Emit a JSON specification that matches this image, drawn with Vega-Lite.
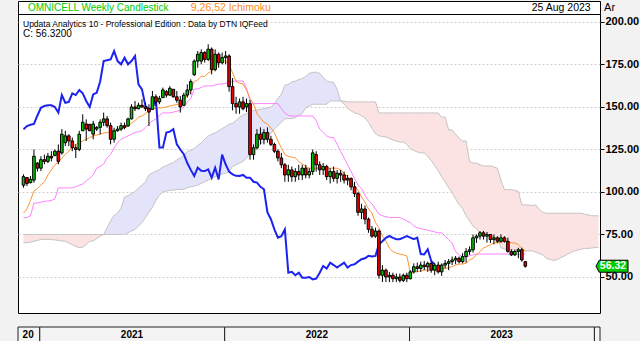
{
"$schema": "https://vega.github.io/schema/vega-lite/v6.json",
"background": "#f2f2f2",
"padding": {"left": 17, "top": 0, "right": 0, "bottom": 1},
"config": {"font": "Liberation Sans", "axisX": {"disable": true}, "view": {"stroke": null}},
"datasets": {
"w": [
{"d":"2020-11-20","o":104,"h":110.4,"l":102.5,"c":109,"t":87.6,"k":84.7,"ch":136.9},
{"d":"2020-11-27","o":108.5,"h":108.8,"l":103.5,"c":105,"t":90,"k":85,"ch":138.8},
{"d":"2020-12-04","o":105.5,"h":109.4,"l":105,"c":107.5,"t":95,"k":86,"ch":139.5},
{"d":"2020-12-11","o":107,"h":125,"l":105.5,"c":121,"t":100.6,"k":93.5,"ch":140},
{"d":"2020-12-18","o":117,"h":117.5,"l":112,"c":114,"t":102,"k":93.5,"ch":145},
{"d":"2020-12-25","o":114,"h":121,"l":112.3,"c":119,"t":104,"k":94,"ch":149.5},
{"d":"2021-01-01","o":119,"h":122,"l":116.3,"c":118,"t":106,"k":94.5,"ch":150.6},
{"d":"2021-01-08","o":118,"h":123,"l":117,"c":121,"t":110,"k":94.7,"ch":151},
{"d":"2021-01-15","o":121,"h":124,"l":118,"c":120,"t":113,"k":95,"ch":151},
{"d":"2021-01-22","o":121.5,"h":125,"l":121,"c":124,"t":116,"k":96,"ch":150},
{"d":"2021-01-29","o":124,"h":128,"l":116.3,"c":118,"t":117.5,"k":102.4,"ch":146.7},
{"d":"2021-02-05","o":123,"h":137,"l":122,"c":134,"t":120,"k":102.4,"ch":157},
{"d":"2021-02-12","o":129,"h":136,"l":127,"c":133,"t":122,"k":102.4,"ch":152.5},
{"d":"2021-02-19","o":133,"h":134,"l":127,"c":130,"t":124,"k":102.4,"ch":153},
{"d":"2021-02-26","o":130,"h":132,"l":124,"c":126,"t":127,"k":102.4,"ch":158},
{"d":"2021-03-05","o":126,"h":128,"l":120,"c":125,"t":128,"k":103,"ch":157},
{"d":"2021-03-12","o":125,"h":136,"l":124,"c":134,"t":129,"k":104,"ch":160},
{"d":"2021-03-19","o":136,"h":145.7,"l":135.9,"c":141,"t":130,"k":104.7,"ch":158},
{"d":"2021-03-26","o":140,"h":142.7,"l":130,"c":137,"t":131,"k":106.5,"ch":153.5},
{"d":"2021-04-02","o":139.8,"h":140,"l":135.9,"c":136,"t":132,"k":108,"ch":150},
{"d":"2021-04-09","o":134,"h":141.8,"l":131,"c":140,"t":133,"k":110,"ch":157.4},
{"d":"2021-04-16","o":137,"h":138.8,"l":135.9,"c":138,"t":133.5,"k":114,"ch":158.4},
{"d":"2021-04-23","o":138,"h":142.7,"l":133.9,"c":141,"t":134,"k":115,"ch":165},
{"d":"2021-04-30","o":141,"h":146.7,"l":138.8,"c":143,"t":134.7,"k":116.5,"ch":177},
{"d":"2021-05-07","o":143,"h":144.7,"l":137.8,"c":139,"t":135,"k":120,"ch":177.5},
{"d":"2021-05-14","o":139,"h":140.8,"l":128,"c":131,"t":135.5,"k":122,"ch":178},
{"d":"2021-05-21","o":131,"h":137.8,"l":129,"c":136,"t":136,"k":126,"ch":182.9},
{"d":"2021-05-28","o":136,"h":138.8,"l":135.5,"c":137,"t":136.5,"k":129,"ch":177},
{"d":"2021-06-04","o":137,"h":140.8,"l":135.9,"c":139,"t":137,"k":131,"ch":175.1},
{"d":"2021-06-11","o":139,"h":140.8,"l":136.9,"c":138,"t":137.6,"k":132,"ch":179},
{"d":"2021-06-18","o":138.8,"h":143.7,"l":138.5,"c":143,"t":139,"k":133,"ch":175.1},
{"d":"2021-06-25","o":143,"h":151.6,"l":142.7,"c":150,"t":140.6,"k":134,"ch":177},
{"d":"2021-07-02","o":150,"h":153.5,"l":147.6,"c":149,"t":142,"k":135,"ch":180},
{"d":"2021-07-09","o":149,"h":152.5,"l":148.6,"c":151,"t":144,"k":135.5,"ch":163.3},
{"d":"2021-07-16","o":151,"h":154.5,"l":149.6,"c":150,"t":144.7,"k":136,"ch":160.4},
{"d":"2021-07-23","o":150,"h":152.5,"l":147.6,"c":149,"t":146,"k":138,"ch":150.6},
{"d":"2021-07-30","o":149,"h":151.6,"l":138.8,"c":147,"t":148,"k":140,"ch":148.6},
{"d":"2021-08-06","o":148.6,"h":159.4,"l":148.5,"c":156,"t":149,"k":141.8,"ch":149.6},
{"d":"2021-08-13","o":156,"h":157.4,"l":150.6,"c":153,"t":149.2,"k":143,"ch":154.5},
{"d":"2021-08-20","o":153,"h":156.5,"l":151.6,"c":155,"t":149.4,"k":145,"ch":126.1},
{"d":"2021-08-27","o":155.5,"h":161.4,"l":155.5,"c":160,"t":149.6,"k":146.5,"ch":126.1},
{"d":"2021-09-03","o":159,"h":160,"l":155.5,"c":157,"t":150,"k":146.5,"ch":134.9},
{"d":"2021-09-10","o":157,"h":162.3,"l":156.5,"c":161,"t":150.6,"k":146.5,"ch":135.5},
{"d":"2021-09-17","o":160.4,"h":160.4,"l":155.5,"c":156,"t":151,"k":147,"ch":136.9},
{"d":"2021-09-24","o":156,"h":159.4,"l":152.5,"c":154,"t":151.5,"k":147.5,"ch":128},
{"d":"2021-10-01","o":154,"h":156.5,"l":146.7,"c":150,"t":152,"k":148,"ch":125},
{"d":"2021-10-08","o":151,"h":158.4,"l":150.6,"c":157,"t":154,"k":150,"ch":122.2},
{"d":"2021-10-15","o":157,"h":163.3,"l":155.5,"c":160,"t":157,"k":153,"ch":117},
{"d":"2021-10-22","o":160,"h":166.3,"l":157.4,"c":165,"t":160,"k":155,"ch":113},
{"d":"2021-10-29","o":169,"h":178,"l":168.2,"c":177,"t":165,"k":160.6,"ch":109.4},
{"d":"2021-11-05","o":177,"h":182.9,"l":173.1,"c":181,"t":166,"k":160.6,"ch":114.3},
{"d":"2021-11-12","o":177,"h":183.9,"l":175.1,"c":182,"t":168,"k":161.5,"ch":112.5},
{"d":"2021-11-19","o":182,"h":182.9,"l":176.1,"c":178,"t":168,"k":162.4,"ch":112.3},
{"d":"2021-11-26","o":178,"h":186.9,"l":177,"c":184,"t":170,"k":162.4,"ch":113.3},
{"d":"2021-12-03","o":184,"h":185,"l":169.2,"c":172,"t":171,"k":162.4,"ch":108.4},
{"d":"2021-12-10","o":172,"h":183.9,"l":171,"c":181,"t":173,"k":163,"ch":114.3},
{"d":"2021-12-17","o":181,"h":182,"l":173.1,"c":176,"t":176,"k":163.5,"ch":107.4},
{"d":"2021-12-24","o":176,"h":182,"l":175.1,"c":179,"t":177,"k":163.5,"ch":122},
{"d":"2021-12-31","o":179,"h":182.9,"l":175.1,"c":180,"t":177,"k":164,"ch":116.3},
{"d":"2022-01-07","o":180,"h":181,"l":159,"c":162,"t":175,"k":164.5,"ch":112},
{"d":"2022-01-14","o":162,"h":167,"l":148,"c":152,"t":170,"k":165,"ch":110.4},
{"d":"2022-01-21","o":152,"h":156,"l":146,"c":150,"t":165,"k":165.3,"ch":109.5},
{"d":"2022-01-28","o":150,"h":155,"l":146,"c":153,"t":164,"k":165.3,"ch":109.4},
{"d":"2022-02-04","o":153,"h":156,"l":148,"c":149,"t":163.5,"k":165.3,"ch":110},
{"d":"2022-02-11","o":150,"h":155,"l":147,"c":152,"t":160,"k":161,"ch":108.4},
{"d":"2022-02-18","o":152,"h":154,"l":119,"c":122,"t":155,"k":153.5,"ch":108.4},
{"d":"2022-02-25","o":122,"h":128,"l":119,"c":126,"t":151.8,"k":152,"ch":106},
{"d":"2022-03-04","o":126,"h":137,"l":125,"c":134,"t":146,"k":152,"ch":105.5},
{"d":"2022-03-11","o":134,"h":138,"l":128,"c":131,"t":143.5,"k":152,"ch":103},
{"d":"2022-03-18","o":131,"h":137,"l":128,"c":135,"t":141,"k":152,"ch":101.6},
{"d":"2022-03-25","o":135,"h":138,"l":129,"c":131,"t":140,"k":152,"ch":88},
{"d":"2022-04-01","o":131,"h":133,"l":127,"c":128,"t":137.6,"k":152,"ch":84},
{"d":"2022-04-08","o":128,"h":129,"l":123,"c":124,"t":135,"k":152,"ch":78},
{"d":"2022-04-15","o":124,"h":125,"l":118,"c":120,"t":130,"k":152,"ch":73.1},
{"d":"2022-04-22","o":120,"h":123,"l":114,"c":116,"t":126,"k":149,"ch":74},
{"d":"2022-04-29","o":116,"h":117,"l":106,"c":110,"t":122,"k":146.5,"ch":78},
{"d":"2022-05-06","o":110,"h":116,"l":106,"c":113,"t":121,"k":145,"ch":52.5},
{"d":"2022-05-13","o":113,"h":115,"l":106,"c":109,"t":120.5,"k":144.7,"ch":53},
{"d":"2022-05-20","o":109,"h":114,"l":106,"c":112,"t":120,"k":144.7,"ch":51},
{"d":"2022-05-27","o":112,"h":116,"l":107,"c":110,"t":118,"k":144.7,"ch":52.5},
{"d":"2022-06-03","o":110,"h":116,"l":107,"c":114,"t":116.5,"k":144.7,"ch":49.6},
{"d":"2022-06-10","o":114,"h":116,"l":108,"c":110,"t":115,"k":144.7,"ch":49.6},
{"d":"2022-06-17","o":110,"h":114,"l":108,"c":112,"t":114,"k":144.7,"ch":50},
{"d":"2022-06-24","o":112,"h":125,"l":110,"c":123,"t":114,"k":144.7,"ch":48.6},
{"d":"2022-07-01","o":122,"h":124,"l":112,"c":116,"t":114,"k":142,"ch":49},
{"d":"2022-07-08","o":116,"h":118,"l":110,"c":113,"t":114,"k":137,"ch":52.5},
{"d":"2022-07-15","o":113,"h":117,"l":110,"c":115,"t":114,"k":135,"ch":56.5},
{"d":"2022-07-22","o":115,"h":116,"l":107,"c":109,"t":114,"k":133,"ch":55},
{"d":"2022-07-29","o":109,"h":114,"l":105,"c":112,"t":114,"k":132,"ch":58.4},
{"d":"2022-08-05","o":112,"h":115,"l":106,"c":108,"t":114,"k":132,"ch":57},
{"d":"2022-08-12","o":108,"h":113,"l":105,"c":111,"t":114,"k":128,"ch":55.5},
{"d":"2022-08-19","o":111,"h":113,"l":106,"c":110,"t":113,"k":124,"ch":57},
{"d":"2022-08-26","o":110,"h":112,"l":105,"c":107,"t":111,"k":120,"ch":58.4},
{"d":"2022-09-02","o":107,"h":110,"l":104,"c":108,"t":109,"k":116,"ch":55.5},
{"d":"2022-09-09","o":108,"h":108.5,"l":101,"c":103,"t":106,"k":112,"ch":57},
{"d":"2022-09-16","o":103,"h":106,"l":97,"c":99,"t":104,"k":108,"ch":57.5},
{"d":"2022-09-23","o":99,"h":100,"l":86,"c":88,"t":101,"k":104,"ch":59},
{"d":"2022-09-30","o":88,"h":93,"l":84,"c":90,"t":97,"k":102,"ch":60.4},
{"d":"2022-10-07","o":90,"h":92,"l":81,"c":84,"t":94,"k":98,"ch":61},
{"d":"2022-10-14","o":84,"h":85,"l":76,"c":78,"t":90,"k":95,"ch":62.4},
{"d":"2022-10-21","o":78,"h":80,"l":73,"c":74,"t":87.6,"k":93,"ch":62},
{"d":"2022-10-28","o":74,"h":79,"l":73,"c":77,"t":82,"k":90,"ch":62.4},
{"d":"2022-11-04","o":77,"h":78,"l":49,"c":51,"t":79,"k":87,"ch":69.2},
{"d":"2022-11-11","o":51,"h":57,"l":47,"c":54,"t":74,"k":86,"ch":71},
{"d":"2022-11-18","o":54,"h":55,"l":47,"c":50,"t":71,"k":85.5,"ch":73},
{"d":"2022-11-25","o":50,"h":53,"l":47,"c":51,"t":67,"k":85,"ch":74.1},
{"d":"2022-12-02","o":51,"h":52.5,"l":47,"c":49,"t":65,"k":85,"ch":73},
{"d":"2022-12-09","o":49,"h":52,"l":47,"c":50,"t":64,"k":85,"ch":72.2},
{"d":"2022-12-16","o":50,"h":52,"l":46.7,"c":48,"t":63.5,"k":84.9,"ch":72.2},
{"d":"2022-12-23","o":48,"h":52,"l":47,"c":51,"t":63,"k":84,"ch":73.1},
{"d":"2022-12-30","o":51,"h":52.5,"l":47,"c":49,"t":62.4,"k":83,"ch":74.1},
{"d":"2023-01-06","o":49,"h":54,"l":48.5,"c":53,"t":52.5,"k":82,"ch":73.1},
{"d":"2023-01-13","o":53,"h":58,"l":52,"c":56,"t":53,"k":80,"ch":72.2},
{"d":"2023-01-20","o":56,"h":58.5,"l":53,"c":55,"t":53,"k":79,"ch":73.1},
{"d":"2023-01-27","o":55,"h":59,"l":53,"c":57,"t":53.5,"k":78.5,"ch":63.5},
{"d":"2023-02-03","o":57,"h":59.4,"l":54,"c":56,"t":54,"k":78,"ch":63.3},
{"d":"2023-02-10","o":56,"h":59,"l":53,"c":58,"t":54,"k":77.5,"ch":66.3},
{"d":"2023-02-17","o":58,"h":59,"l":52.5,"c":54,"t":54,"k":77,"ch":59.4},
{"d":"2023-02-24","o":54,"h":58,"l":51,"c":57,"t":54.5,"k":76.5,"ch":57.5},
{"d":"2023-03-03","o":57,"h":59,"l":52,"c":53,"t":54.5,"k":76},
{"d":"2023-03-10","o":53,"h":58,"l":50.6,"c":57,"t":54.7,"k":76},
{"d":"2023-03-17","o":57,"h":60,"l":55,"c":58,"t":55,"k":74},
{"d":"2023-03-24","o":58,"h":60.5,"l":54,"c":59,"t":55.5,"k":72},
{"d":"2023-03-31","o":59,"h":62,"l":57,"c":60,"t":56,"k":70},
{"d":"2023-04-07","o":60,"h":62.3,"l":57.5,"c":61,"t":57,"k":65},
{"d":"2023-04-14","o":61,"h":62,"l":58,"c":59,"t":57.6,"k":63},
{"d":"2023-04-21","o":59,"h":64,"l":58,"c":62,"t":57.6,"k":62},
{"d":"2023-04-28","o":62,"h":67,"l":58.4,"c":65,"t":58,"k":62},
{"d":"2023-05-05","o":65,"h":68,"l":63,"c":66,"t":60,"k":62.5},
{"d":"2023-05-12","o":66,"h":75,"l":64.3,"c":73,"t":61,"k":63},
{"d":"2023-05-19","o":73,"h":75,"l":70,"c":74,"t":63,"k":63.5},
{"d":"2023-05-26","o":74,"h":77,"l":72,"c":76,"t":65,"k":63.5},
{"d":"2023-06-02","o":76,"h":77.1,"l":72,"c":74,"t":67,"k":63.5},
{"d":"2023-06-09","o":74,"h":76.5,"l":70.2,"c":75,"t":68,"k":63.5},
{"d":"2023-06-16","o":75,"h":75.1,"l":70,"c":72,"t":69,"k":63.5},
{"d":"2023-06-23","o":72,"h":75,"l":69.2,"c":73,"t":70,"k":63.5},
{"d":"2023-06-30","o":73,"h":74,"l":70,"c":71,"t":70,"k":63.5},
{"d":"2023-07-07","o":71,"h":75.1,"l":70.2,"c":73,"t":70.5,"k":63.5},
{"d":"2023-07-14","o":73,"h":74,"l":70.2,"c":71,"t":71,"k":63.5},
{"d":"2023-07-21","o":71,"h":73.1,"l":64.3,"c":65,"t":71,"k":63.5},
{"d":"2023-07-28","o":65,"h":66.3,"l":62.3,"c":63,"t":70,"k":63.5},
{"d":"2023-08-04","o":63,"h":66,"l":62.3,"c":65,"t":70,"k":63.5},
{"d":"2023-08-11","o":65,"h":67.2,"l":61,"c":66,"t":69,"k":63.5},
{"d":"2023-08-18","o":66,"h":67.2,"l":59,"c":60,"t":67,"k":63.5},
{"d":"2023-08-25","o":59,"h":59.4,"l":55.5,"c":56.32,"t":65,"k":63.5}
],
"cloud": [
{"d":"2020-11-20","a":70,"b":75,"s":"p1"},
{"d":"2020-11-27","a":70.2,"b":75,"s":"p1"},
{"d":"2020-12-04","a":70.5,"b":75,"s":"p1"},
{"d":"2020-12-11","a":71,"b":75,"s":"p1"},
{"d":"2020-12-18","a":71.5,"b":75,"s":"p1"},
{"d":"2020-12-25","a":72,"b":75,"s":"p1"},
{"d":"2021-01-01","a":72,"b":75,"s":"p1"},
{"d":"2021-01-08","a":72.2,"b":75,"s":"p1"},
{"d":"2021-01-15","a":72,"b":75,"s":"p1"},
{"d":"2021-01-22","a":71.8,"b":75,"s":"p1"},
{"d":"2021-01-29","a":71.5,"b":75,"s":"p1"},
{"d":"2021-02-05","a":71.2,"b":75,"s":"p1"},
{"d":"2021-02-12","a":71,"b":75,"s":"p1"},
{"d":"2021-02-19","a":70,"b":75,"s":"p1"},
{"d":"2021-02-26","a":69,"b":75,"s":"p1"},
{"d":"2021-03-05","a":68,"b":75,"s":"p1"},
{"d":"2021-03-12","a":67.3,"b":75,"s":"p1"},
{"d":"2021-03-19","a":67.5,"b":75,"s":"p1"},
{"d":"2021-03-26","a":69,"b":75,"s":"p1"},
{"d":"2021-04-02","a":71,"b":75,"s":"p1"},
{"d":"2021-04-09","a":71.2,"b":75,"s":"p1"},
{"d":"2021-04-16","a":72.5,"b":75,"s":"p1"},
{"d":"2021-04-23","a":74,"b":75,"s":"p1"},
{"d":"2021-04-30","a":75,"b":75,"s":"p1"},
{"d":"2021-04-30","a":75,"b":75,"s":"bl"},
{"d":"2021-05-07","a":79,"b":75,"s":"bl"},
{"d":"2021-05-14","a":83,"b":75,"s":"bl"},
{"d":"2021-05-21","a":86.2,"b":75,"s":"bl"},
{"d":"2021-05-28","a":87.5,"b":75,"s":"bl"},
{"d":"2021-06-04","a":90.5,"b":75,"s":"bl"},
{"d":"2021-06-11","a":97,"b":75,"s":"bl"},
{"d":"2021-06-18","a":97.8,"b":76,"s":"bl"},
{"d":"2021-06-25","a":99,"b":77,"s":"bl"},
{"d":"2021-07-02","a":100.3,"b":78,"s":"bl"},
{"d":"2021-07-09","a":102.4,"b":80,"s":"bl"},
{"d":"2021-07-16","a":104,"b":82,"s":"bl"},
{"d":"2021-07-23","a":106,"b":85,"s":"bl"},
{"d":"2021-07-30","a":110,"b":88,"s":"bl"},
{"d":"2021-08-06","a":111.2,"b":91,"s":"bl"},
{"d":"2021-08-13","a":112.2,"b":95,"s":"bl"},
{"d":"2021-08-20","a":113.2,"b":98,"s":"bl"},
{"d":"2021-08-27","a":114.7,"b":100,"s":"bl"},
{"d":"2021-09-03","a":115.5,"b":100.5,"s":"bl"},
{"d":"2021-09-10","a":116.5,"b":101,"s":"bl"},
{"d":"2021-09-17","a":117.4,"b":101,"s":"bl"},
{"d":"2021-09-24","a":118.8,"b":101.5,"s":"bl"},
{"d":"2021-10-01","a":120,"b":101.5,"s":"bl"},
{"d":"2021-10-08","a":121.5,"b":101.6,"s":"bl"},
{"d":"2021-10-15","a":123.8,"b":102.5,"s":"bl"},
{"d":"2021-10-22","a":124.5,"b":103,"s":"bl"},
{"d":"2021-10-29","a":125.6,"b":103.5,"s":"bl"},
{"d":"2021-11-05","a":127.5,"b":104,"s":"bl"},
{"d":"2021-11-12","a":128.8,"b":105,"s":"bl"},
{"d":"2021-11-19","a":131,"b":106,"s":"bl"},
{"d":"2021-11-26","a":132.8,"b":107,"s":"bl"},
{"d":"2021-12-03","a":134,"b":108,"s":"bl"},
{"d":"2021-12-10","a":134.8,"b":109,"s":"bl"},
{"d":"2021-12-17","a":136,"b":110,"s":"bl"},
{"d":"2021-12-24","a":137.3,"b":110.5,"s":"bl"},
{"d":"2021-12-31","a":138.5,"b":111,"s":"bl"},
{"d":"2022-01-07","a":139.8,"b":112,"s":"bl"},
{"d":"2022-01-14","a":140.4,"b":115,"s":"bl"},
{"d":"2022-01-21","a":142,"b":116,"s":"bl"},
{"d":"2022-01-28","a":144,"b":117,"s":"bl"},
{"d":"2022-02-04","a":145.4,"b":118,"s":"bl"},
{"d":"2022-02-11","a":146.1,"b":120,"s":"bl"},
{"d":"2022-02-18","a":147.2,"b":122,"s":"bl"},
{"d":"2022-02-25","a":148,"b":124,"s":"bl"},
{"d":"2022-03-04","a":148.3,"b":126,"s":"bl"},
{"d":"2022-03-11","a":148.6,"b":128,"s":"bl"},
{"d":"2022-03-18","a":149,"b":130,"s":"bl"},
{"d":"2022-03-25","a":149.5,"b":132,"s":"bl"},
{"d":"2022-04-01","a":150,"b":134.5,"s":"bl"},
{"d":"2022-04-08","a":152,"b":137,"s":"bl"},
{"d":"2022-04-15","a":155,"b":139,"s":"bl"},
{"d":"2022-04-22","a":157.5,"b":141,"s":"bl"},
{"d":"2022-04-29","a":162.8,"b":143,"s":"bl"},
{"d":"2022-05-06","a":163.3,"b":143.2,"s":"bl"},
{"d":"2022-05-13","a":164.8,"b":143.2,"s":"bl"},
{"d":"2022-05-20","a":165.2,"b":143.7,"s":"bl"},
{"d":"2022-05-27","a":166.2,"b":145,"s":"bl"},
{"d":"2022-06-03","a":166.7,"b":146.2,"s":"bl"},
{"d":"2022-06-10","a":168,"b":149.5,"s":"bl"},
{"d":"2022-06-17","a":169.8,"b":150.5,"s":"bl"},
{"d":"2022-06-24","a":170.3,"b":151.6,"s":"bl"},
{"d":"2022-07-01","a":170.5,"b":151.6,"s":"bl"},
{"d":"2022-07-08","a":169.8,"b":151.6,"s":"bl"},
{"d":"2022-07-15","a":167.5,"b":151.6,"s":"bl"},
{"d":"2022-07-22","a":165.2,"b":151.6,"s":"bl"},
{"d":"2022-07-29","a":164.7,"b":153.5,"s":"bl"},
{"d":"2022-08-05","a":164.4,"b":153.5,"s":"bl"},
{"d":"2022-08-12","a":160.5,"b":153.5,"s":"bl"},
{"d":"2022-08-19","a":153.5,"b":153.5,"s":"bl"},
{"d":"2022-08-19","a":153.5,"b":153.5,"s":"p2"},
{"d":"2022-08-26","a":151.9,"b":153.5,"s":"p2"},
{"d":"2022-09-02","a":149,"b":153,"s":"p2"},
{"d":"2022-09-09","a":147.8,"b":153,"s":"p2"},
{"d":"2022-09-16","a":146.5,"b":153,"s":"p2"},
{"d":"2022-09-23","a":146,"b":153,"s":"p2"},
{"d":"2022-09-30","a":144.8,"b":153,"s":"p2"},
{"d":"2022-10-07","a":143.5,"b":153,"s":"p2"},
{"d":"2022-10-14","a":141,"b":153,"s":"p2"},
{"d":"2022-10-21","a":137.5,"b":153,"s":"p2"},
{"d":"2022-10-28","a":134.3,"b":153,"s":"p2"},
{"d":"2022-11-04","a":133,"b":146.5,"s":"p2"},
{"d":"2022-11-11","a":132.6,"b":146.5,"s":"p2"},
{"d":"2022-11-18","a":132.4,"b":146.5,"s":"p2"},
{"d":"2022-11-25","a":131.4,"b":146.5,"s":"p2"},
{"d":"2022-12-02","a":130.6,"b":146.5,"s":"p2"},
{"d":"2022-12-09","a":129.9,"b":146.5,"s":"p2"},
{"d":"2022-12-16","a":129.4,"b":146.5,"s":"p2"},
{"d":"2022-12-23","a":129.4,"b":146.5,"s":"p2"},
{"d":"2022-12-30","a":128,"b":146.5,"s":"p2"},
{"d":"2023-01-06","a":125.5,"b":146.5,"s":"p2"},
{"d":"2023-01-13","a":124.5,"b":146.5,"s":"p2"},
{"d":"2023-01-20","a":123.5,"b":146.5,"s":"p2"},
{"d":"2023-01-27","a":123,"b":146.5,"s":"p2"},
{"d":"2023-02-03","a":123,"b":146.5,"s":"p2"},
{"d":"2023-02-10","a":121,"b":146.5,"s":"p2"},
{"d":"2023-02-17","a":118.5,"b":146.5,"s":"p2"},
{"d":"2023-02-24","a":115.5,"b":146.5,"s":"p2"},
{"d":"2023-03-03","a":112.5,"b":146.5,"s":"p2"},
{"d":"2023-03-10","a":109,"b":144,"s":"p2"},
{"d":"2023-03-17","a":106,"b":144,"s":"p2"},
{"d":"2023-03-24","a":102.5,"b":136.5,"s":"p2"},
{"d":"2023-03-31","a":99.5,"b":136.5,"s":"p2"},
{"d":"2023-04-07","a":96,"b":134,"s":"p2"},
{"d":"2023-04-14","a":92.5,"b":131.5,"s":"p2"},
{"d":"2023-04-21","a":90.3,"b":130,"s":"p2"},
{"d":"2023-04-28","a":86,"b":130,"s":"p2"},
{"d":"2023-05-05","a":83,"b":118,"s":"p2"},
{"d":"2023-05-12","a":80,"b":117,"s":"p2"},
{"d":"2023-05-19","a":78.3,"b":117,"s":"p2"},
{"d":"2023-05-26","a":76,"b":116,"s":"p2"},
{"d":"2023-06-02","a":75,"b":115.3,"s":"p2"},
{"d":"2023-06-09","a":74.5,"b":115.3,"s":"p2"},
{"d":"2023-06-16","a":74.2,"b":115.3,"s":"p2"},
{"d":"2023-06-23","a":73.5,"b":114.8,"s":"p2"},
{"d":"2023-06-30","a":72.7,"b":113.9,"s":"p2"},
{"d":"2023-07-07","a":67.3,"b":106.9,"s":"p2"},
{"d":"2023-07-14","a":66.5,"b":101.4,"s":"p2"},
{"d":"2023-07-21","a":66,"b":101.4,"s":"p2"},
{"d":"2023-07-28","a":66,"b":101.4,"s":"p2"},
{"d":"2023-08-04","a":66,"b":100.9,"s":"p2"},
{"d":"2023-08-11","a":65.8,"b":100.4,"s":"p2"},
{"d":"2023-08-18","a":65.5,"b":92.4,"s":"p2"},
{"d":"2023-08-25","a":65.5,"b":92.4,"s":"p2"},
{"d":"2023-09-01","a":65.3,"b":92.4,"s":"p2"},
{"d":"2023-09-08","a":65.4,"b":91.9,"s":"p2"},
{"d":"2023-09-15","a":64.5,"b":92.4,"s":"p2"},
{"d":"2023-09-22","a":63.8,"b":89.9,"s":"p2"},
{"d":"2023-09-29","a":63,"b":88,"s":"p2"},
{"d":"2023-10-06","a":61,"b":87.5,"s":"p2"},
{"d":"2023-10-13","a":60.3,"b":87.5,"s":"p2"},
{"d":"2023-10-20","a":59.8,"b":87.5,"s":"p2"},
{"d":"2023-10-27","a":60,"b":87.5,"s":"p2"},
{"d":"2023-11-03","a":61.3,"b":87.5,"s":"p2"},
{"d":"2023-11-10","a":62,"b":87.5,"s":"p2"},
{"d":"2023-11-17","a":63.3,"b":87.5,"s":"p2"},
{"d":"2023-11-24","a":64.3,"b":87.5,"s":"p2"},
{"d":"2023-12-01","a":65.3,"b":87.5,"s":"p2"},
{"d":"2023-12-08","a":65.8,"b":87.5,"s":"p2"},
{"d":"2023-12-15","a":66.3,"b":87.5,"s":"p2"},
{"d":"2023-12-22","a":66.8,"b":87,"s":"p2"},
{"d":"2023-12-29","a":66.8,"b":86.5,"s":"p2"},
{"d":"2024-01-05","a":67,"b":86,"s":"p2"},
{"d":"2024-01-12","a":67.3,"b":86,"s":"p2"},
{"d":"2024-01-19","a":67.3,"b":86,"s":"p2"}
],
"years": [
{"s":"2020-11-19","e":"2021-01-01","m":"2020-12-09","lab":"20"},
{"s":"2021-01-01","e":"2022-01-01","m":"2021-07-02","lab":"2021"},
{"s":"2022-01-01","e":"2023-01-01","m":"2022-07-02","lab":"2022"},
{"s":"2023-01-01","e":"2024-01-01","m":"2023-07-02","lab":"2023"},
{"s":"2024-01-01","e":"2024-01-12","m":"2024-01-06","lab":""}
],
"last": [{"c":56.32}]
},
"vconcat": [
{
"spacing": 0,
"bounds": "flush",
"vconcat": [
{
"width": 582, "height": 13,
"view": {"fill": "white", "stroke": "black", "strokeWidth": 1},
"data": {"values": [{}]},
"layer": [
{"mark": {"type": "text", "text": "OMNICELL Weekly Candlestick", "color": "#00c800", "fontSize": 10, "align": "left", "baseline": "middle"},
 "encoding": {"x": {"datum": 1.7, "type": "quantitative", "scale": {"domain": [0, 100]}}}},
{"mark": {"type": "text", "text": "9,26,52 Ichimoku", "color": "#ff8a1c", "fontSize": 10.5, "align": "left", "baseline": "middle"},
 "encoding": {"x": {"datum": 29.7, "type": "quantitative"}}},
{"mark": {"type": "text", "text": "25 Aug 2023", "color": "black", "fontSize": 10.5, "align": "right", "baseline": "middle"},
 "encoding": {"x": {"datum": 98.4, "type": "quantitative"}}},
{"mark": {"type": "text", "text": "Ar", "color": "black", "fontSize": 11, "align": "left", "baseline": "middle"},
 "encoding": {"x": {"datum": 100.7, "type": "quantitative"}}}
]
},
{
"width": 582, "height": 299,
"view": {"fill": "white", "stroke": "black", "strokeWidth": 1},
"title": {"text": "Updata Analytics 10 - Professional Edition : Data by DTN IQFeed", "subtitle": "C: 56.3200", "anchor": "start", "frame": "group", "orient": "top", "offset": -25, "dx": 5, "font": "Liberation Sans", "fontSize": 8.5, "fontWeight": "normal", "color": "black", "subtitleFont": "Liberation Sans", "subtitleFontSize": 10, "subtitleColor": "black", "subtitlePadding": 1},
"layer": [
{"data": {"name": "cloud"},
 "mark": {"type": "area", "clip": true, "opacity": 1},
 "encoding": {
  "x": {"field": "d", "type": "temporal", "scale": {"domain": [{"year": 2020, "month": 11, "date": 19}, {"year": 2024, "month": 1, "date": 12}], "nice": false}},
  "y": {"field": "a", "type": "quantitative", "title": null, "scale": {"domain": [28.8, 204.7], "nice": false, "zero": false},
        "axis": {"orient": "right", "values": [50, 75, 100, 125, 150, 175, 200], "format": ".2f", "title": null, "grid": true, "gridColor": "#cfcfcf", "gridDash": [2, 2], "domain": false, "ticks": true, "tickSize": 4, "tickColor": "black", "labelFont": "Liberation Sans", "labelFontSize": 11, "labelFontWeight": "bold", "labelColor": "black", "labelPadding": 1}},
  "y2": {"field": "b"},
  "color": {"field": "s", "type": "nominal", "scale": {"domain": ["p1", "bl", "p2"], "range": ["#fbe3e3", "#e3e4fa", "#fbe3e3"]}, "legend": null}
 }},
{"data": {"name": "cloud"},
 "mark": {"type": "line", "clip": true, "color": "#c4c4c4", "strokeWidth": 1},
 "encoding": {"x": {"field": "d", "type": "temporal"}, "y": {"field": "a", "type": "quantitative", "title": null}}},
{"data": {"name": "cloud"},
 "mark": {"type": "line", "clip": true, "color": "#c4c4c4", "strokeWidth": 1},
 "encoding": {"x": {"field": "d", "type": "temporal"}, "y": {"field": "b", "type": "quantitative", "title": null}}},
{"data": {"name": "w"},
 "mark": {"type": "line", "color": "#ff80ff", "strokeWidth": 1},
 "encoding": {"x": {"field": "d", "type": "temporal"}, "y": {"field": "k", "type": "quantitative", "title": null}}},
{"data": {"name": "w"},
 "mark": {"type": "line", "color": "#ff9430", "strokeWidth": 1},
 "encoding": {"x": {"field": "d", "type": "temporal"}, "y": {"field": "t", "type": "quantitative", "title": null}}},
{"data": {"name": "w"},
 "mark": {"type": "line", "color": "#1c22f0", "strokeWidth": 2},
 "encoding": {"x": {"field": "d", "type": "temporal"}, "y": {"field": "ch", "type": "quantitative", "title": null}}},
{"data": {"name": "w"},
 "mark": {"type": "rule", "color": "black", "strokeWidth": 1},
 "encoding": {"x": {"field": "d", "type": "temporal"}, "y": {"field": "l", "type": "quantitative", "title": null}, "y2": {"field": "h"}}},
{"data": {"name": "w"},
 "mark": {"type": "bar", "size": 2.6, "stroke": "black", "strokeWidth": 1},
 "encoding": {"x": {"field": "d", "type": "temporal"}, "y": {"field": "o", "type": "quantitative", "title": null}, "y2": {"field": "c"},
  "fill": {"condition": {"test": "datum.c >= datum.o", "value": "#00c800"}, "value": "#f00000"}}},
{"data": {"name": "last"},
 "mark": {"type": "point", "shape": "M-1,0L-0.8,-0.375L1,-0.375L1,0.375L-0.8,0.375Z", "size": 1024, "filled": true, "fill": "#00cc00", "stroke": "black", "strokeWidth": 1, "opacity": 1, "xOffset": 17},
 "encoding": {"x": {"datum": {"year": 2024, "month": 1, "date": 12}, "type": "temporal"}, "y": {"field": "c", "type": "quantitative", "title": null}}},
{"data": {"name": "last"},
 "mark": {"type": "text", "color": "white", "fontSize": 10.5, "fontWeight": "bold", "align": "center", "baseline": "middle", "dx": 18},
 "encoding": {"x": {"datum": {"year": 2024, "month": 1, "date": 12}, "type": "temporal"}, "y": {"field": "c", "type": "quantitative", "title": null}, "text": {"field": "c", "format": ".2f"}}}
]
}
]
},
{
"width": 582, "height": 15,
"data": {"name": "years"},
"layer": [
{"mark": {"type": "rect", "fill": "#f4f4f4", "stroke": "#222222", "strokeWidth": 1},
 "encoding": {"x": {"field": "s", "type": "temporal", "scale": {"domain": [{"year": 2020, "month": 11, "date": 19}, {"year": 2024, "month": 1, "date": 12}], "nice": false}}, "x2": {"field": "e"}}},
{"mark": {"type": "text", "fontSize": 10, "fontWeight": "bold", "color": "black", "baseline": "middle"},
 "encoding": {"x": {"field": "m", "type": "temporal"}, "text": {"field": "lab"}}}
]
}
],
"spacing": 12
}
